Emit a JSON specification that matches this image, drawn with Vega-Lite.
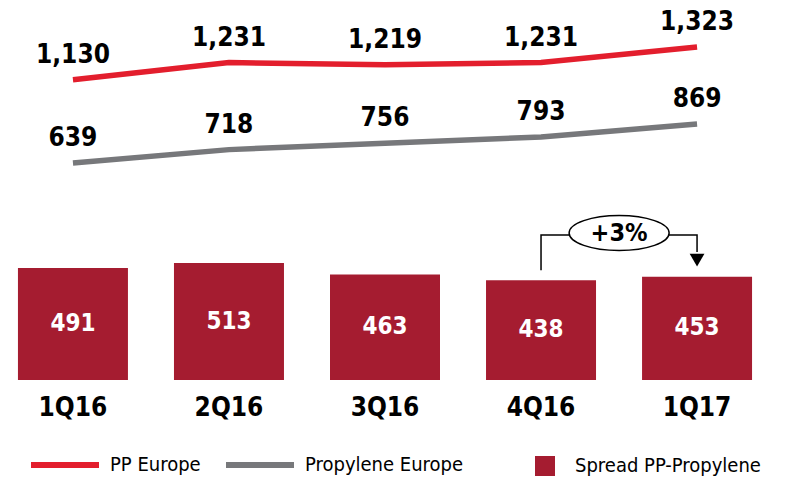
{
  "$schema": "https://vega.github.io/schema/vega-lite/v6.json",
  "width": 760,
  "height": 380,
  "autosize": {"type": "none"},
  "padding": {"left": 5, "top": 0, "right": 23, "bottom": 99},
  "background": "white",
  "config": {"view": {"stroke": null}, "font": "DejaVu Sans Condensed"},
  "datasets": {
    "prices": [
      {"q": "1Q16", "series": "PP Europe", "value": 1130},
      {"q": "2Q16", "series": "PP Europe", "value": 1231},
      {"q": "3Q16", "series": "PP Europe", "value": 1219},
      {"q": "4Q16", "series": "PP Europe", "value": 1231},
      {"q": "1Q17", "series": "PP Europe", "value": 1323},
      {"q": "1Q16", "series": "Propylene Europe", "value": 639},
      {"q": "2Q16", "series": "Propylene Europe", "value": 718},
      {"q": "3Q16", "series": "Propylene Europe", "value": 756},
      {"q": "4Q16", "series": "Propylene Europe", "value": 793},
      {"q": "1Q17", "series": "Propylene Europe", "value": 869}
    ],
    "spread": [
      {"q": "1Q16", "name": "Spread PP-Propylene", "spread": 491},
      {"q": "2Q16", "name": "Spread PP-Propylene", "spread": 513},
      {"q": "3Q16", "name": "Spread PP-Propylene", "spread": 463},
      {"q": "4Q16", "name": "Spread PP-Propylene", "spread": 438},
      {"q": "1Q17", "name": "Spread PP-Propylene", "spread": 453}
    ],
    "bracket": [
      {"q": "4Q16", "v": 482, "step": 1},
      {"q": "4Q16", "v": 636, "step": 2},
      {"q": "1Q17", "v": 636, "step": 3},
      {"q": "1Q17", "v": 561, "step": 4}
    ],
    "tag": [{"q": "4Q16", "v": 645, "label": "+3%"}],
    "arrow": [{"q": "1Q17", "v": 526}]
  },
  "encoding": {
    "x": {
      "field": "q",
      "type": "nominal",
      "sort": ["1Q16", "2Q16", "3Q16", "4Q16", "1Q17"],
      "scale": {"paddingInner": 0.295, "paddingOuter": 0.083},
      "axis": {
        "title": null,
        "labelAngle": 0,
        "labelFontSize": 26,
        "labelFontWeight": "bold",
        "labelColor": "black",
        "labelFont": "DejaVu Sans Condensed",
        "labelPadding": 14,
        "domain": false,
        "ticks": false
      }
    }
  },
  "layer": [
    {
      "data": {"name": "prices"},
      "encoding": {
        "y": {"field": "value", "type": "quantitative", "scale": {"domain": [-640, 1600]}, "axis": null}
      },
      "layer": [
        {
          "mark": {"type": "line", "strokeWidth": 5.5},
          "encoding": {
            "stroke": {
              "field": "series",
              "type": "nominal",
              "scale": {"domain": ["PP Europe", "Propylene Europe"], "range": ["#E31E2D", "#77787B"]},
              "legend": {
                "orient": "none",
                "legendX": 50,
                "legendY": 455,
                "direction": "horizontal",
                "title": null,
                "symbolType": "M-6.8,0H6.8",
                "symbolSize": 100,
                "symbolStrokeWidth": 6,
                "labelFontSize": 20,
                "labelFont": "DejaVu Sans Condensed",
                "labelColor": "black",
                "labelLimit": 400,
                "labelOffset": 35,
                "columnPadding": 13,
                "padding": 0
              }
            }
          }
        },
        {
          "mark": {"type": "text", "dy": -25, "fontSize": 26, "fontWeight": "bold", "font": "DejaVu Sans Condensed", "color": "black"},
          "encoding": {
            "text": {"field": "value", "type": "quantitative", "format": ","},
            "detail": {"field": "series", "type": "nominal"}
          }
        }
      ]
    },
    {
      "data": {"name": "spread"},
      "layer": [
        {
          "mark": {"type": "bar"},
          "encoding": {
            "y": {"field": "spread", "type": "quantitative", "scale": {"domain": [0, 1667]}, "axis": null},
            "fill": {
              "field": "name",
              "type": "nominal",
              "scale": {"range": ["#A51C30"]},
              "legend": {
                "orient": "none",
                "legendX": 530,
                "legendY": 456,
                "title": null,
                "symbolType": "square",
                "symbolSize": 400,
                "symbolStrokeWidth": 0,
                "labelFontSize": 20,
                "labelFont": "DejaVu Sans Condensed",
                "labelColor": "black",
                "labelLimit": 400,
                "labelOffset": 20,
                "padding": 0
              }
            }
          }
        },
        {
          "transform": [{"calculate": "datum.spread / 2", "as": "mid"}],
          "mark": {"type": "text", "fontSize": 24, "fontWeight": "bold", "font": "DejaVu Sans Condensed", "color": "white"},
          "encoding": {
            "y": {"field": "mid", "type": "quantitative", "scale": {"domain": [0, 1667]}, "axis": null},
            "text": {"field": "spread", "type": "quantitative"}
          }
        }
      ]
    },
    {
      "layer": [
        {
          "data": {"name": "bracket"},
          "mark": {"type": "line", "color": "black", "strokeWidth": 1.5},
          "encoding": {
            "y": {"field": "v", "type": "quantitative", "scale": {"domain": [0, 1667]}, "axis": null},
            "order": {"field": "step", "type": "quantitative"}
          }
        },
        {
          "data": {"name": "tag"},
          "mark": {
            "type": "point",
            "shape": "M-1,0A1,0.35 0 1,0 1,0A1,0.35 0 1,0 -1,0Z",
            "size": 10000,
            "filled": true,
            "fill": "white",
            "stroke": "black",
            "strokeWidth": 1.5,
            "opacity": 1
          },
          "encoding": {
            "x": {"field": "q", "type": "nominal", "sort": ["1Q16", "2Q16", "3Q16", "4Q16", "1Q17"], "bandPosition": 1.21},
            "y": {"field": "v", "type": "quantitative", "scale": {"domain": [0, 1667]}, "axis": null}
          }
        },
        {
          "data": {"name": "tag"},
          "mark": {"type": "text", "fontSize": 25, "fontWeight": "bold", "font": "DejaVu Sans Condensed", "color": "black"},
          "encoding": {
            "x": {"field": "q", "type": "nominal", "sort": ["1Q16", "2Q16", "3Q16", "4Q16", "1Q17"], "bandPosition": 1.21},
            "y": {"field": "v", "type": "quantitative", "scale": {"domain": [0, 1667]}, "axis": null},
            "text": {"field": "label", "type": "nominal"}
          }
        },
        {
          "data": {"name": "arrow"},
          "mark": {"type": "point", "shape": "triangle-down", "size": 220, "filled": true, "color": "black", "opacity": 1},
          "encoding": {
            "y": {"field": "v", "type": "quantitative", "scale": {"domain": [0, 1667]}, "axis": null}
          }
        }
      ]
    }
  ],
  "resolve": {"scale": {"y": "independent"}}
}
